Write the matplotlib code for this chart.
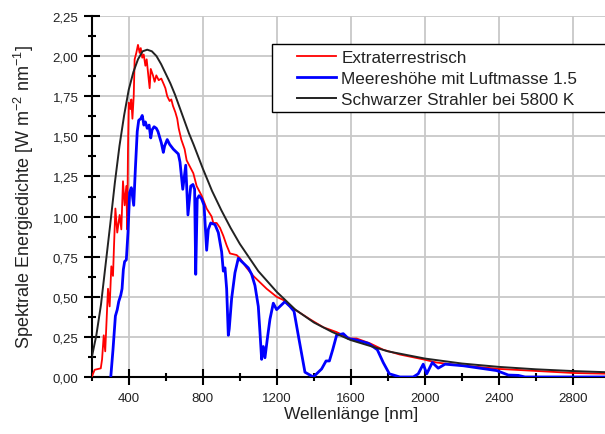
import matplotlib
matplotlib.use("Agg")
import matplotlib.pyplot as plt
from matplotlib.patches import Rectangle
from matplotlib.ticker import MultipleLocator, FuncFormatter

plt.rcParams['font.family'] = ['Liberation Sans', 'DejaVu Sans']
plt.rcParams['mathtext.fontset'] = 'custom'
plt.rcParams['mathtext.rm'] = 'Liberation Sans'
plt.rcParams['mathtext.it'] = 'Liberation Sans:italic'

# Extraterrestrial spectrum
extra_nm = [200, 216, 249, 256, 265, 273, 288, 297, 306, 315, 320, 328, 338, 351, 360,
            369, 378, 387, 392, 396, 400, 409, 414, 420, 427, 432, 441, 450, 459, 465,
            473, 481, 490, 497, 504, 513, 519, 531, 540, 549, 562, 576, 591, 598, 608,
            621, 630, 639, 652, 662, 670, 684, 702, 713, 731, 749, 767, 794, 821, 848,
            857, 875, 893, 911, 929, 947, 983, 1001, 1037, 1073, 1109, 1145, 1199, 1235,
            1271, 1325, 1379, 1451, 1523, 1595, 1631, 1703, 1775, 1865, 1991, 2064, 2172,
            2406, 2802, 3000]
extra_val = [0.00, 0.045, 0.054, 0.11, 0.26, 0.16, 0.55, 0.44, 0.69, 0.63, 0.80, 1.05, 0.90, 1.01, 0.92,
             1.22, 1.07, 1.19, 0.92, 1.42, 1.71, 1.67, 1.73, 1.61, 1.75, 1.98, 2.02, 2.07, 2.02, 2.05,
             1.99, 2.01, 1.94, 1.98, 1.90, 1.80, 1.92, 1.88, 1.84, 1.88, 1.85, 1.86, 1.82, 1.80, 1.75,
             1.72, 1.73, 1.69, 1.65, 1.61, 1.55, 1.48, 1.42, 1.35, 1.31, 1.27, 1.19, 1.13, 1.05, 1.00,
             0.96, 0.96, 0.93, 0.88, 0.82, 0.77, 0.76, 0.74, 0.68, 0.63, 0.59, 0.55, 0.50, 0.48,
             0.44, 0.40, 0.36, 0.31, 0.28, 0.24, 0.24, 0.21, 0.17, 0.14, 0.11, 0.09, 0.075,
             0.05, 0.025, 0.02]

# Sea level, air mass 1.5
sea_nm = [303, 315, 328, 338, 346, 357, 364, 371, 378, 387, 396, 405, 414, 427, 436,
          446, 454, 465, 473, 482, 490, 500, 510, 519, 526, 537, 549, 558, 576, 587,
          594, 608, 621, 641, 668, 677, 692, 708, 720, 735, 747, 756, 762, 770, 780,
          794, 807, 821, 830, 843, 866, 884, 902, 911, 920, 929, 938, 943, 956, 974,
          992, 1010, 1046, 1064, 1082, 1100, 1109, 1118, 1127, 1136, 1149, 1163, 1181, 1199,
          1217, 1244, 1271, 1293, 1316, 1352, 1397, 1442, 1466, 1484, 1502, 1523, 1559, 1586,
          1631, 1694, 1743, 1775, 1808, 1865, 1937, 1964, 1991, 2010, 2040, 2072, 2109, 2208,
          2388, 2451, 2505, 2541, 3000]
sea_val = [0.00, 0.17, 0.38, 0.42, 0.47, 0.51, 0.55, 0.67, 0.72, 0.73, 0.90, 1.15, 1.18, 1.07, 1.30,
           1.53, 1.60, 1.61, 1.63, 1.57, 1.59, 1.55, 1.57, 1.49, 1.54, 1.56, 1.55, 1.53, 1.46, 1.40,
           1.44, 1.48, 1.45, 1.42, 1.39, 1.34, 1.17, 1.32, 1.01, 1.19, 1.20, 1.17, 0.64, 1.11, 1.13,
           1.11, 1.07, 0.79, 0.92, 0.96, 0.95, 0.90, 0.78, 0.66, 0.68, 0.55, 0.26, 0.30, 0.49, 0.65,
           0.74, 0.72, 0.68, 0.64, 0.57, 0.44, 0.28, 0.11, 0.19, 0.12, 0.24, 0.36, 0.46, 0.42,
           0.44, 0.47, 0.44, 0.41, 0.26, 0.03, 0.00, 0.05, 0.10, 0.10, 0.17, 0.26, 0.27, 0.24,
           0.23, 0.21, 0.17, 0.09, 0.02, 0.00, 0.00, 0.02, 0.08, 0.02, 0.09, 0.055, 0.08, 0.07,
           0.04, 0.012, 0.01, 0.00, 0.00]

# Black body at 5800 K
bb_nm = [200, 225, 250, 275, 300, 325, 350, 375, 400, 425, 450, 475, 500, 525, 550,
         575, 600, 625, 650, 675, 700, 725, 750, 800, 850, 900, 950, 1000,
         1100, 1200, 1300, 1400, 1500, 1600, 1800, 2000, 2200, 2400, 2600, 2800, 3000]
bb_val = [0.12, 0.26, 0.45, 0.70, 0.95, 1.21, 1.44, 1.63, 1.79, 1.90, 1.98, 2.03, 2.04, 2.03, 2.00,
          1.95, 1.89, 1.83, 1.76, 1.68, 1.60, 1.52, 1.45, 1.30, 1.16, 1.04, 0.93, 0.83,
          0.66, 0.53, 0.42, 0.34, 0.28, 0.23, 0.16, 0.115, 0.084, 0.063, 0.048, 0.037, 0.029]

labels = ['Extraterrestrisch', 'Meereshöhe mit Luftmasse 1.5', 'Schwarzer Strahler bei 5800 K']

W, H = 605, 435
fig = plt.figure(figsize=(W / 100, H / 100), dpi=100)
ax = fig.add_axes([91.7 / W, 1 - 378 / H, 518.3 / W, 361 / H])

ax.plot(extra_nm, extra_val, color='#ff0000', lw=1.3, label=labels[0], zorder=3)
ax.plot(sea_nm, sea_val, color='#0000ff', lw=2.0, label=labels[1], zorder=3)
ax.plot(bb_nm, bb_val, color='#222222', lw=1.4, label=labels[2], zorder=4)

ax.set_xlim(200, 3000)
ax.set_ylim(0, 2.25)
ax.xaxis.set_major_locator(MultipleLocator(400))
ax.xaxis.set_minor_locator(MultipleLocator(200))
ax.yaxis.set_major_locator(MultipleLocator(0.25))
ax.yaxis.set_minor_locator(MultipleLocator(0.125))
ax.yaxis.set_major_formatter(FuncFormatter(lambda v, p: f"{v:.2f}".replace('.', ',')))

ax.tick_params(which='major', direction='inout', length=11, width=1.5, labelsize=9.5,
               colors='black', labelcolor='#222222')
ax.tick_params(axis='x', which='major', pad=5)
ax.tick_params(axis='y', which='major', pad=4)
ax.tick_params(which='minor', direction='inout', length=6, width=1.5)
ax.set_xticks([400, 800, 1200, 1600, 2000, 2400, 2800])

for s in ['top', 'right']:
    ax.spines[s].set_visible(False)
for s in ['left', 'bottom']:
    ax.spines[s].set_linewidth(1.5)

ax.grid(True, which='major', color='#c8c8c8', lw=1.3)
ax.set_axisbelow(True)

ax.set_xlabel('Wellenlänge [nm]', fontsize=12.5, color='#222222', labelpad=2)
ax.set_ylabel('Spektrale Energiedichte [W m$^{-2}$ nm$^{-1}$]', fontsize=13,
              color='#222222', labelpad=12)

# legend frame
fig.add_artist(Rectangle((272 / W, 1 - 113 / H), 340 / W, 68 / H, transform=fig.transFigure,
                         facecolor='white', edgecolor='black', lw=1.0, zorder=5))
fig.legend(loc='upper left', bbox_to_anchor=(297 / W, 1 - 51 / H), frameon=False,
           fontsize=12.3, borderpad=0, borderaxespad=0, handlelength=2.3,
           handletextpad=0.3, labelspacing=0.36, labelcolor='#222222')

fig.savefig('out.png', dpi=100)
